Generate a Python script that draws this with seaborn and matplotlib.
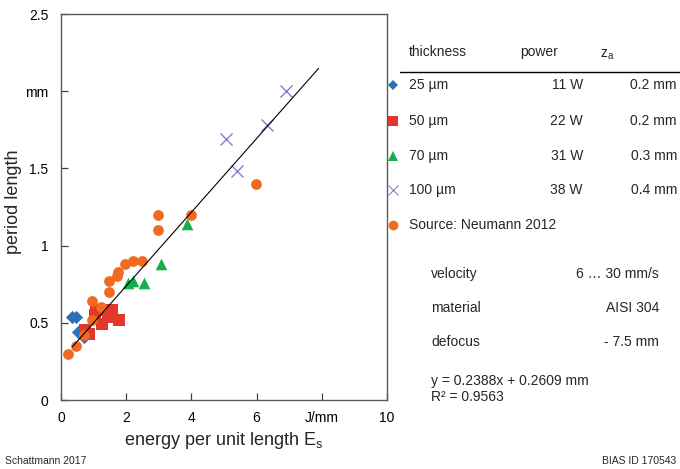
import matplotlib

matplotlib.use("Agg")
import matplotlib.pyplot as plt
import numpy as np
import pandas as pd
import seaborn as sns
from matplotlib.lines import Line2D

# --- data ---
d25_x = [0.35, 0.45, 0.52, 0.71]
d25_y = [0.54, 0.54, 0.44, 0.41]
d50_x = [0.73, 0.85, 1.04, 1.07, 1.25, 1.43, 1.55, 1.79]
d50_y = [0.455, 0.43, 0.55, 0.58, 0.49, 0.54, 0.585, 0.515]
d70_x = [2.06, 2.20, 2.55, 3.07, 3.85]
d70_y = [0.76, 0.77, 0.76, 0.88, 1.14]
d100_x = [5.05, 5.40, 6.32, 6.89]
d100_y = [1.69, 1.48, 1.78, 2.00]
neu_x = [0.22, 0.47, 0.71, 0.96, 0.96, 1.22, 1.48, 1.48, 1.71, 1.76,
         1.97, 2.22, 2.47, 2.98, 2.98, 3.99, 5.99]
neu_y = [0.30, 0.35, 0.42, 0.52, 0.64, 0.60, 0.70, 0.77, 0.80, 0.83,
         0.88, 0.90, 0.90, 1.10, 1.20, 1.20, 1.40]

fit_slope = 0.2388
fit_icpt = 0.2609
fit_range = [0.35, 7.9]

series_names = ["25 µm", "50 µm", "70 µm", "100 µm", "Source: Neumann 2012"]
series_power = ["11 W", "22 W", "31 W", "38 W", ""]
series_za = ["0.2 mm", "0.2 mm", "0.3 mm", "0.4 mm", ""]

x_ticks = [0, 2, 4, 6, 8, 10]
x_ticklabels = ["0", "2", "4", "6", "J/mm", "10"]
y_ticks = [0, 0.5, 1, 1.5, 2, 2.5]
y_ticklabels = ["0", "0.5", "1", "1.5", "mm", "2.5"]

# --- styles ---
styles = [
    dict(marker="D", color="#2E6FB7", s=45),
    dict(marker="s", color="#E2382B", s=65),
    dict(marker="^", color="#14AE4C", s=70),
    dict(marker="x", color="#8A79D6", s=75),
    dict(marker="o", color="#F26A21", s=60),
]

sns.set_theme(style="white")
plt.rcParams["font.family"] = ["Liberation Sans", "DejaVu Sans"]

fig = plt.figure(figsize=(6.8, 4.69), dpi=100)
W, H = 680, 469
ax = fig.add_axes([61 / W, 1 - 400 / H, (387 - 61) / W, (400 - 14) / H])

all_x = [d25_x, d50_x, d70_x, d100_x, neu_x]
all_y = [d25_y, d50_y, d70_y, d100_y, neu_y]
for xs, ys, st in zip(all_x, all_y, styles):
    df = pd.DataFrame({"x": xs, "y": ys})
    kw = dict(linewidth=1.0) if st["marker"] == "x" else dict(linewidth=0)
    sns.scatterplot(data=df, x="x", y="y", marker=st["marker"], color=st["color"],
                    s=st["s"], ax=ax, legend=False, zorder=3, **kw)

fit_x = np.array(fit_range)
sns.lineplot(x=fit_x, y=fit_slope * fit_x + fit_icpt, color="black",
             linewidth=0.8, ax=ax, zorder=4)

ax.set_xlim(0, 10)
ax.set_ylim(0, 2.5)
ax.set_xticks(x_ticks)
ax.set_xticklabels(x_ticklabels)
ax.set_yticks(y_ticks)
ax.set_yticklabels(y_ticklabels)
ax.tick_params(axis="both", direction="in", length=5, width=0.9, color="#404040",
               labelsize=10, labelcolor="black", bottom=True, left=True,
               top=False, right=False)
ax.tick_params(axis="x", pad=8)
ax.tick_params(axis="y", pad=9)
ax.set_xlabel("")
ax.set_ylabel("")
for sp in ax.spines.values():
    sp.set_color("#595959")
    sp.set_linewidth(1.0)

fig.text(224 / W, 1 - 440 / H, "energy per unit length E$_\\mathregular{s}$",
         ha="center", va="center", fontsize=13)
fig.text(13 / W, 1 - 202 / H, "period length", rotation=90,
         ha="center", va="center", fontsize=13)


def fx(px):
    return px / W


def fy(py):
    return 1 - py / H


# --- legend table ---
fs = 10
fig.text(fx(409), fy(52), "thickness", ha="left", va="center", fontsize=fs)
fig.text(fx(520), fy(52), "power", ha="left", va="center", fontsize=fs)
fig.text(fx(600), fy(55), "z$_\\mathregular{a}$", ha="left", va="center", fontsize=fs)
fig.add_artist(Line2D([fx(400), fx(680)], [fy(72), fy(72)], color="black",
                      linewidth=1.0, transform=fig.transFigure))

row_y = [85, 121, 156, 190, 225]
legend_sizes = [5.5, 7.0, 7.0, 7.5, 7.0]
for name, pw, za, st, ry, ms in zip(series_names, series_power, series_za, styles,
                                    row_y, legend_sizes):
    if st["marker"] == "x":
        fig.add_artist(Line2D([fx(393)], [fy(ry)], marker="x", color=st["color"],
                              markersize=ms, markeredgewidth=0.8, linestyle="none",
                              transform=fig.transFigure))
    else:
        fig.add_artist(Line2D([fx(393)], [fy(ry)], marker=st["marker"], color=st["color"],
                              markersize=ms, markeredgewidth=0, linestyle="none",
                              transform=fig.transFigure))
    fig.text(fx(409), fy(ry), name, ha="left", va="center", fontsize=fs)
    if pw:
        fig.text(fx(583), fy(ry), pw, ha="right", va="center", fontsize=fs)
        fig.text(fx(677), fy(ry), za, ha="right", va="center", fontsize=fs)

# --- process parameters ---
params = [("velocity", "6 … 30 mm/s"), ("material", "AISI 304"), ("defocus", "- 7.5 mm")]
for (lab, val), py in zip(params, [274, 308, 342]):
    fig.text(fx(431), fy(py), lab, ha="left", va="center", fontsize=fs)
    fig.text(fx(659), fy(py), val, ha="right", va="center", fontsize=fs)

fig.text(fx(431), fy(381), f"y = {fit_slope}x + {fit_icpt} mm", ha="left", va="center",
         fontsize=fs)
fig.text(fx(431), fy(397), "R² = 0.9563", ha="left", va="center", fontsize=fs)

fig.text(fx(5), fy(461), "Schattmann 2017", ha="left", va="center", fontsize=7.5)
fig.text(fx(676), fy(461), "BIAS ID 170543", ha="right", va="center", fontsize=7.5)

fig.savefig("out.png", dpi=100)
